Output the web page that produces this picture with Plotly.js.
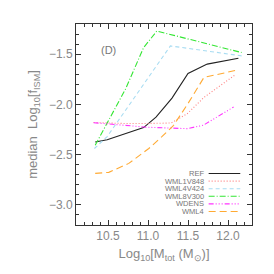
<!DOCTYPE html>
<html><head><meta charset="utf-8">
<script src="https://cdn.plot.ly/plotly-3.0.1.min.js"></script>
<style>html,body{margin:0;padding:0;background:#fff}#c{width:274px;height:274px}</style>
</head><body><div id="c"></div>
<script>
// Data
const refX = [10.34, 10.49, 10.945, 11.10, 11.30, 11.50, 11.74, 12.13];
const refY = [-2.374, -2.352, -2.231, -2.127, -1.937, -1.692, -1.599, -1.540];
const w1X = [10.32, 10.7, 11.0, 11.29, 11.49, 11.70, 12.10];
const w1Y = [-2.18, -2.19, -2.19, -2.185, -2.093, -1.93, -1.70];
const w4vX = [10.33, 10.49, 11.28, 12.17];
const w4vY = [-2.439, -2.32, -1.418, -1.517];
const w8X = [10.34, 10.72, 10.945, 11.11, 12.17];
const w8Y = [-2.406, -1.846, -1.435, -1.270, -1.484];
const wdX = [10.32, 10.64, 11.0, 11.49, 11.69, 12.07];
const wdY = [-2.182, -2.202, -2.228, -2.241, -2.208, -2.026];
const w4X = [10.34, 10.51, 10.76, 11.01, 11.17, 11.32, 11.50, 11.70, 12.12];
const w4Y = [-2.686, -2.676, -2.587, -2.439, -2.324, -2.208, -1.991, -1.731, -1.658];
const names = ["REF", "WML1V848", "WML4V424", "WML8V300", "WDENS", "WML4"];

const colors = ["#222222", "#ff7f7f", "#a8dcf2", "#33e633", "#ff33ff", "#ffaa33"];
const dashes = ["solid", "1px,2px", "4px,3px", "6px,2px,1px,2px", "5px,2px,1px,2px,1px,2px,1px,2px", "7px,4px"];
const xs = [refX, w1X, w4vX, w8X, wdX, w4X];
const ys = [refY, w1Y, w4vY, w8Y, wdY, w4Y];

const traces = xs.map((x, i) => ({
  x: x, y: ys[i], type: "scatter", mode: "lines", name: names[i],
  line: {color: colors[i], width: 1.1, dash: dashes[i]}, showlegend: false
}));

// manual legend (text right, line sample on the right)
const L = 76.3, W = 175.4, B = 225, H = 201;
const px = v => (v - L) / W, py = v => (B - v) / H;
const annotations = [{
  text: "(D)", xref: "paper", yref: "paper", x: px(99), y: py(41.5),
  showarrow: false, font: {family: "Liberation Sans", size: 11, color: "#777"}
}];
const shapes = [];
names.forEach((n, i) => {
  const yy = 173.5 + i * 7.6;
  annotations.push({
    text: n, xref: "paper", yref: "paper", x: px(206), y: py(yy),
    xanchor: "right", yanchor: "middle", showarrow: false,
    font: {family: "Liberation Sans", size: 7.5, color: "#777"}
  });
  shapes.push({
    type: "line", xref: "paper", yref: "paper",
    x0: px(208.5), x1: px(240), y0: py(yy), y1: py(yy),
    line: {color: colors[i], width: 1.1, dash: dashes[i]}
  });
});

const axisCommon = {
  showgrid: false, zeroline: false, showline: true, linecolor: "#333", linewidth: 1,
  mirror: "allticks", ticks: "inside", ticklen: 5, tickcolor: "#333",
  tickfont: {family: "Liberation Sans", size: 12, color: "#888"},
  tickformat: ".1f"
};

const layout = {
  width: 274, height: 274,
  margin: {l: 76.3, r: 22.3, t: 24, b: 49},
  paper_bgcolor: "#fff", plot_bgcolor: "#fff",
  xaxis: Object.assign({}, axisCommon, {
    range: [10.1, 12.3], dtick: 0.5, tick0: 0,
    minor: {dtick: 0.1, ticklen: 3, ticks: "inside", tickcolor: "#333"},
    title: {text: "Log<sub>10</sub>[M<sub>tot</sub> (M<sub>⊙</sub>)]", standoff: 6,
            font: {family: "Liberation Sans", size: 13, color: "#888"}}
  }),
  yaxis: Object.assign({}, axisCommon, {
    range: [-3.2, -1.2], dtick: 0.5, tick0: 0,
    minor: {dtick: 0.1, ticklen: 3, ticks: "inside", tickcolor: "#333"},
    title: {text: "median  Log<sub>10</sub>[f<sub>ISM</sub>]", standoff: 8,
            font: {family: "Liberation Sans", size: 13, color: "#888"}}
  }),
  annotations: annotations, shapes: shapes
};

Plotly.newPlot("c", traces, layout, {staticPlot: true, displayModeBar: false});
</script></body></html>
